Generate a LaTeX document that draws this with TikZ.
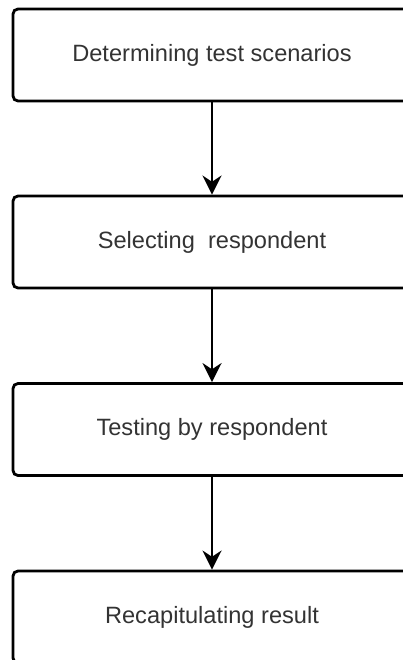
\documentclass[tikz,border=0pt]{standalone}
\usepackage{fontspec}
\setmainfont{Liberation Sans}
\usetikzlibrary{arrows.meta}
\begin{document}
\begin{tikzpicture}[x=1pt,y=1pt,> = {Stealth[length=19pt,width=19pt]},line width=2.8pt,
	every node/.style={draw,rounded corners=5pt,minimum width=398pt,minimum height=92pt,text=black!80,font=\fontsize{23.6}{28}\selectfont}]
	\useasboundingbox (0,0) rectangle (403,-660);
	\node (n1) at (212,-55)		{Determining test scenarios};
	\node (n2) at (212,-242)	{Selecting\ \ respondent};
	\node (n3) at (212,-429.5)	{Testing by respondent};
	\node (n4) at (212,-617)	{Recapitulating result};
	\draw [->] (n1)--(n2);
	\draw [->] (n2)--(n3);
	\draw [->] (n3)--(n4);
\end{tikzpicture}
\end{document}
